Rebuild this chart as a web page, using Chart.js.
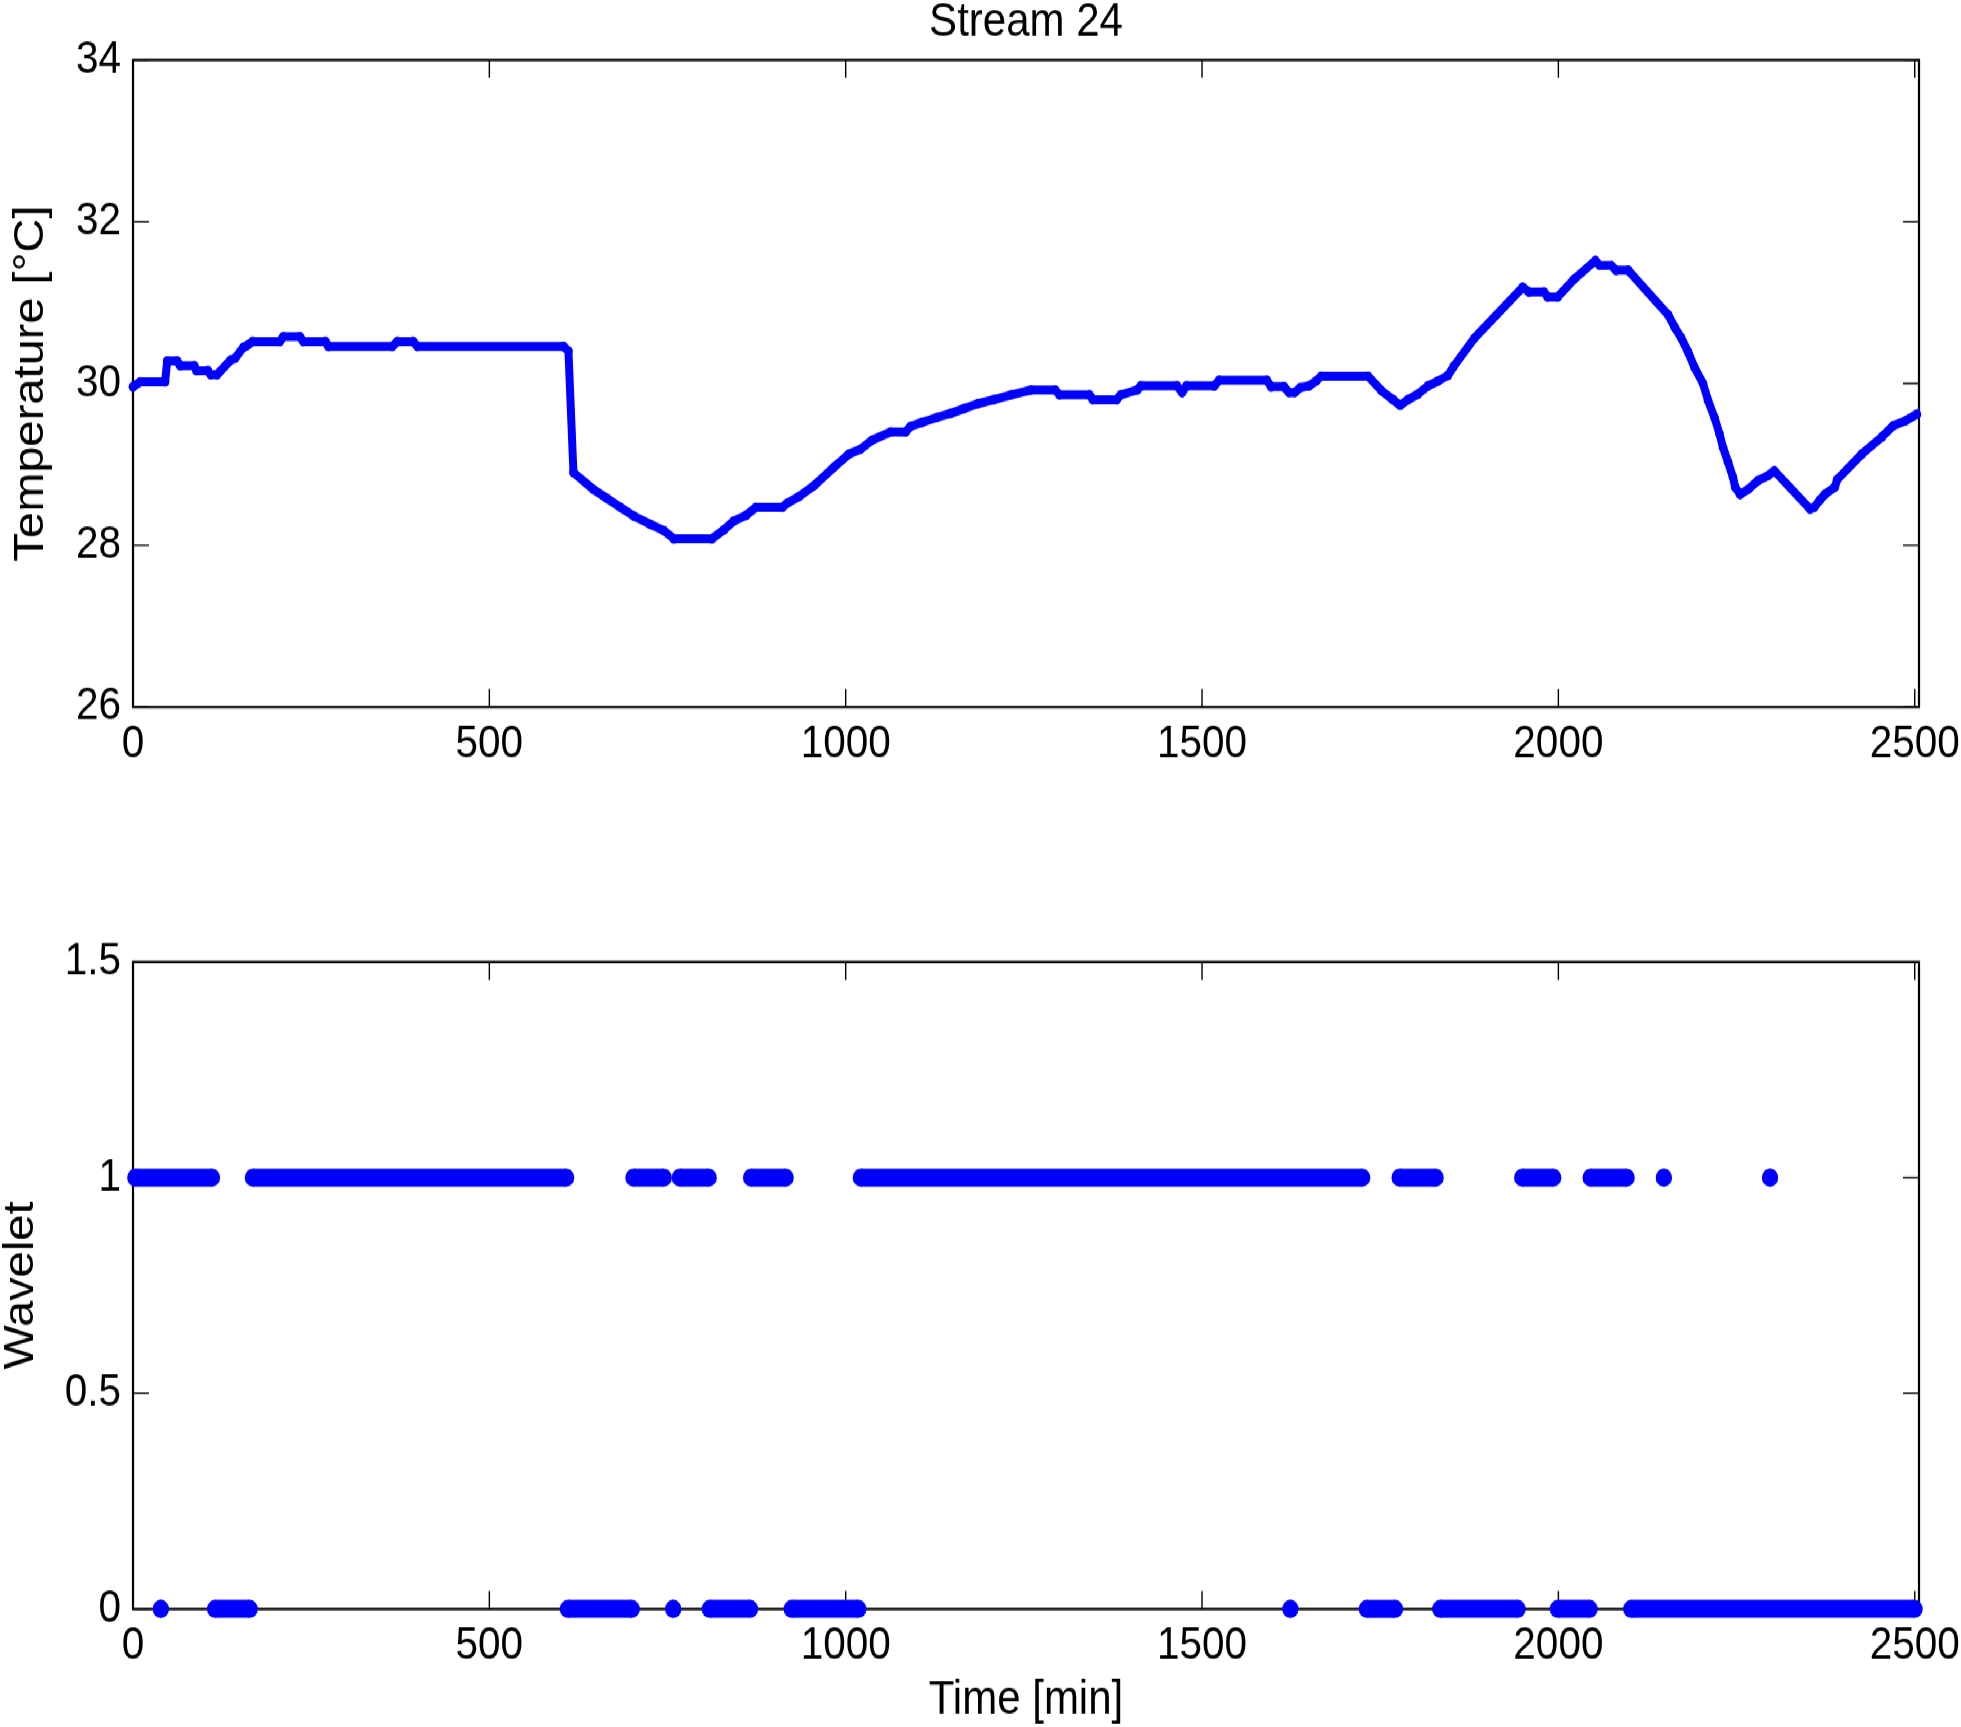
<!DOCTYPE html>
<html><head><meta charset="utf-8">
<script src="https://cdn.jsdelivr.net/npm/chart.js@4.4.0/dist/chart.umd.min.js"></script>
<style>
html,body{margin:0;padding:0;background:#fff;width:1961px;height:1727px;overflow:hidden;}
#stage{position:absolute;left:0;top:0;width:1961px;height:1542px;transform:scaleY(1.12);transform-origin:0 0;}
#c1{position:absolute;left:0;top:0;}
#c2{position:absolute;left:0;top:760px;}
</style></head><body>
<div id="stage"><canvas id="c1" width="1961" height="740"></canvas><canvas id="c2" width="1961" height="782"></canvas></div>
<script>
// ---------------- DATA ----------------
const chartTitle = 'Stream 24';
const timeTicks = [0, 500, 1000, 1500, 2000, 2500];
const tempTicks = [26, 28, 30, 32, 34];
const waveletTicks = [0, 0.5, 1, 1.5];

// Temperature series (time in min, temperature in degC)
const timeMin = [0,10,45,48,62,66,86,89,105,109,118,137,143,155,160,168,206,211,234,239,270,274,364,371,393,399,604,611,618,646,665,684,703,726,745,759,812,829,843,860,874,911,918,934,956,984,1005,1021,1037,1063,1084,1091,1107,1128,1147,1166,1185,1208,1232,1260,1294,1300,1342,1347,1380,1386,1409,1414,1465,1472,1478,1517,1524,1591,1597,1615,1622,1630,1638,1650,1660,1667,1733,1752,1768,1778,1789,1803,1817,1831,1845,1853,1882,1950,1959,1980,1985,1999,2022,2052,2058,2074,2081,2098,2154,2163,2172,2182,2191,2203,2210,2219,2226,2231,2238,2245,2248,2255,2266,2280,2294,2303,2353,2359,2367,2374,2388,2391,2426,2454,2470,2487,2503];
const tempC = [29.96,30.02,30.02,30.28,30.28,30.22,30.22,30.16,30.16,30.11,30.11,30.29,30.31,30.45,30.47,30.52,30.52,30.58,30.58,30.52,30.52,30.46,30.46,30.52,30.52,30.46,30.46,30.40,28.90,28.69,28.58,28.47,28.36,28.26,28.18,28.08,28.08,28.19,28.30,28.37,28.47,28.47,28.52,28.60,28.74,28.97,29.13,29.19,29.30,29.40,29.40,29.47,29.52,29.58,29.63,29.69,29.75,29.80,29.86,29.92,29.92,29.86,29.86,29.80,29.80,29.86,29.92,29.97,29.97,29.89,29.97,29.97,30.04,30.04,29.96,29.96,29.89,29.89,29.95,29.97,30.03,30.09,30.09,29.91,29.80,29.73,29.80,29.87,29.97,30.03,30.10,30.21,30.56,31.19,31.13,31.13,31.07,31.07,31.29,31.52,31.46,31.46,31.40,31.40,30.85,30.70,30.57,30.39,30.20,30.00,29.79,29.58,29.38,29.21,29.03,28.84,28.72,28.63,28.69,28.80,28.86,28.92,28.45,28.47,28.56,28.63,28.72,28.81,29.13,29.34,29.48,29.54,29.62];

// Wavelet classification, as runs of consecutive samples [first time, last time]
const waveletOneRuns = [[3,111],[168,608],[702,745],[767,808],[867,916],[1021,1725],[1777,1828],[1949,1993],[2045,2096],[2148,2148],[2297,2297]];
const waveletZeroRuns = [[39,39],[115,164],[610,700],[758,758],[809,866],[924,1018],[1624,1624],[1731,1771],[1834,1943],[1999,2044],[2102,2500]];

// ---------------- STYLE ----------------
const FONT = "'Liberation Sans', Arial, Helvetica, sans-serif";
const FS = 40.5;      // tick labels
const FT = 42;        // titles
const BLUE = '#0000ff';
const TICK_LEN = 16;
const X_MIN = 0, X_MAX = 2506;

const axesBox = {
  id: 'axesBox',
  beforeDatasetsDraw(chart) {
    const {ctx, chartArea: a, scales: {x, y}} = chart;
    ctx.save();
    ctx.strokeStyle = '#000';
    ctx.lineWidth = 1.4;
    ctx.beginPath();
    x.ticks.forEach(t => {
      const p = x.getPixelForValue(t.value);
      ctx.moveTo(p, a.bottom); ctx.lineTo(p, a.bottom - TICK_LEN);
      ctx.moveTo(p, a.top); ctx.lineTo(p, a.top + TICK_LEN);
    });
    y.ticks.forEach(t => {
      const p = y.getPixelForValue(t.value);
      ctx.moveTo(a.left, p); ctx.lineTo(a.left + TICK_LEN, p);
      ctx.moveTo(a.right, p); ctx.lineTo(a.right - TICK_LEN, p);
    });
    ctx.stroke();
    ctx.lineWidth = 2.2;
    ctx.strokeRect(a.left, a.top, a.right - a.left, a.bottom - a.top);
    ctx.restore();
  }
};

function xScale(height, title) {
  return {
    type: 'linear', min: X_MIN, max: X_MAX,
    grid: {display: false, drawTicks: false}, border: {display: false},
    afterBuildTicks: s => { s.ticks = timeTicks.map(v => ({value: v})); },
    afterFit: s => { s.height = height; s.paddingLeft = 0; s.paddingRight = 0; },
    ticks: {color: '#000', font: {family: FONT, size: FS}, padding: 9, maxRotation: 0, autoSkip: false, callback: v => String(v)},
    title: title ? {display: true, text: title, color: '#000', font: {family: FONT, size: FT, lineHeight: 1.1}, padding: {top: 0, bottom: 0}} : {display: false}
  };
}
function yScale(min, max, ticks, title, titlePad) {
  return {
    type: 'linear', min, max,
    grid: {display: false, drawTicks: false}, border: {display: false},
    afterBuildTicks: s => { s.ticks = ticks.map(v => ({value: v})); },
    afterFit: s => { s.width = 133; s.paddingTop = 0; s.paddingBottom = 0; },
    ticks: {color: '#000', font: {family: FONT, size: FS}, padding: 12, autoSkip: false, callback: v => String(v)},
    title: {display: true, text: title, color: '#000', font: {family: FONT, size: FT, lineHeight: 1.0}, padding: {top: titlePad, bottom: 0}}
  };
}

Chart.defaults.font.family = FONT;

new Chart(document.getElementById('c1'), {
  type: 'scatter',
  data: {datasets: [{
    data: timeMin.map((t, i) => ({x: t, y: tempC[i]})),
    showLine: true, borderColor: BLUE, backgroundColor: BLUE,
    borderWidth: 8, pointRadius: 4.3, pointBorderWidth: 0,
    borderJoinStyle: 'round', borderCapStyle: 'round', tension: 0, clip: false
  }]},
  options: {
    responsive: false, animation: false, events: [],
    layout: {padding: {top: 0, right: 42, bottom: 0, left: 0}},
    plugins: {
      legend: {display: false}, tooltip: {enabled: false},
      title: {display: true, fullSize: false, text: chartTitle, color: '#000', font: {family: FONT, size: FT, weight: 'normal', lineHeight: 0.8}, padding: {top: 3.5, bottom: 16.5}}
    },
    scales: {x: xScale(108.7, null), y: yScale(26, 34, tempTicks, 'Temperature [°C]', 10)}
  },
  plugins: [axesBox]
});

function runDataset(run, level) {
  return {
    data: [{x: run[0], y: level}, {x: run[1], y: level}],
    showLine: true, borderColor: BLUE, backgroundColor: BLUE,
    borderWidth: 16, pointRadius: 8, pointBorderWidth: 0, borderCapStyle: 'butt', clip: false
  };
}

new Chart(document.getElementById('c2'), {
  type: 'scatter',
  data: {datasets: [
    ...waveletOneRuns.map(r => runDataset(r, 1)),
    ...waveletZeroRuns.map(r => runDataset(r, 0))
  ]},
  options: {
    responsive: false, animation: false, events: [],
    layout: {padding: {top: 98.9, right: 42, bottom: 0, left: 0}},
    plugins: {legend: {display: false}, tooltip: {enabled: false}, title: {display: false}},
    scales: {x: xScale(105.4, 'Time [min]'), y: yScale(0, 1.5, waveletTicks, 'Wavelet', 0)}
  },
  plugins: [axesBox]
});
</script></body></html>
